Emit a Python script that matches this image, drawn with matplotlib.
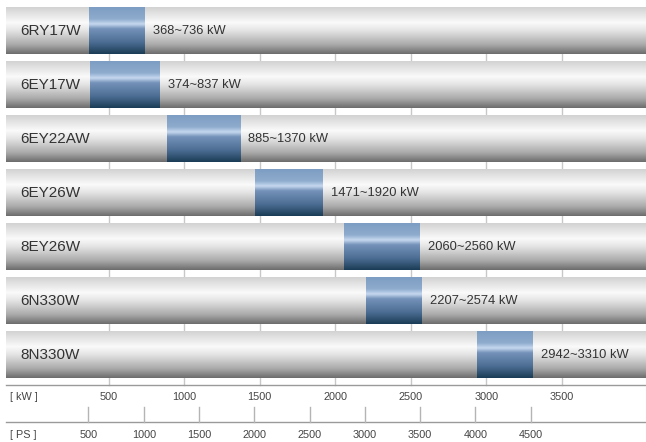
import numpy as np
import matplotlib.pyplot as plt
from matplotlib.colors import LinearSegmentedColormap

plt.rcParams['font.family'] = ['Liberation Sans', 'DejaVu Sans']

# engine models and their power ranges (kW)
models = ['6RY17W', '6EY17W', '6EY22AW', '6EY26W', '8EY26W', '6N330W', '8N330W']
kw_low = [368, 374, 885, 1471, 2060, 2207, 2942]
kw_high = [736, 837, 1370, 1920, 2560, 2574, 3310]

kw_ticks = [500, 1000, 1500, 2000, 2500, 3000, 3500]
ps_ticks = [500, 1000, 1500, 2000, 2500, 3000, 3500, 4000, 4500]
PS_PER_KW = 1.366

gray_cmap = LinearSegmentedColormap.from_list('gray_bar', [
    (0.0, '#d2d2d2'), (0.33, '#fafafa'), (0.5, '#e4e4e4'),
    (0.8, '#aaaaaa'), (1.0, '#6c6c6c')])
blue_cmap = LinearSegmentedColormap.from_list('blue_bar', [
    (0.0, '#7d9dc2'), (0.25, '#8eabcd'), (0.36, '#c6d8ef'), (0.46, '#7593ba'),
    (0.75, '#4c6d93'), (1.0, '#1b3c55')])
grad = np.linspace(0, 1, 256).reshape(-1, 1)

fig = plt.figure(figsize=(6.46, 4.42), dpi=100)
ax = fig.add_axes([0, 0, 1, 1])
ax.set_xlim(-220, 4058)
ax.set_ylim(7.61, -0.574)
ax.axis('off')

bar_left, bar_right = -180, 4060
h = 46 / 54
kw_axis_y = 6.556
ps_axis_y = 7.24

# vertical grid lines (visible only between the bars)
for t in kw_ticks:
    ax.plot([t, t], [0, kw_axis_y], color='#c8c8c8', lw=1, zorder=0)

for i, name in enumerate(models):
    y0, y1 = i - h / 2, i + h / 2
    ax.imshow(grad, cmap=gray_cmap, aspect='auto', extent=[bar_left, bar_right, y1, y0],
              interpolation='bilinear', zorder=1)
    ax.imshow(grad, cmap=blue_cmap, aspect='auto', extent=[kw_low[i], kw_high[i], y1, y0],
              interpolation='bilinear', zorder=2)
    ax.annotate(name, (bar_left, i), xytext=(10, 0), textcoords='offset points',
                ha='left', va='center', fontsize=11, color='#333333', zorder=3)
    ax.annotate(f'{kw_low[i]}~{kw_high[i]} kW', (kw_high[i], i), xytext=(6, 0),
                textcoords='offset points', ha='left', va='center', fontsize=9.3,
                color='#333333', zorder=3)

# kW scale
ax.plot([bar_left, bar_right], [kw_axis_y, kw_axis_y], color='#9a9a9a', lw=1)
ax.text(bar_left + 25, 6.78, '[ kW ]', fontsize=7.8, color='#444444', va='center', ha='left')
for t in kw_ticks:
    ax.text(t, 6.78, str(t), fontsize=7.8, color='#444444', va='center', ha='center')

# PS scale
ax.plot([bar_left, bar_right], [ps_axis_y, ps_axis_y], color='#9a9a9a', lw=1)
ax.text(bar_left + 25, 7.48, '[ PS ]', fontsize=7.8, color='#444444', va='center', ha='left')
for t in ps_ticks:
    x = t / PS_PER_KW
    ax.plot([x, x], [ps_axis_y - 0.28, ps_axis_y], color='#b4b4b4', lw=1)
    ax.text(x, 7.48, str(t), fontsize=7.8, color='#444444', va='center', ha='center')

fig.savefig('out.png', dpi=100)
